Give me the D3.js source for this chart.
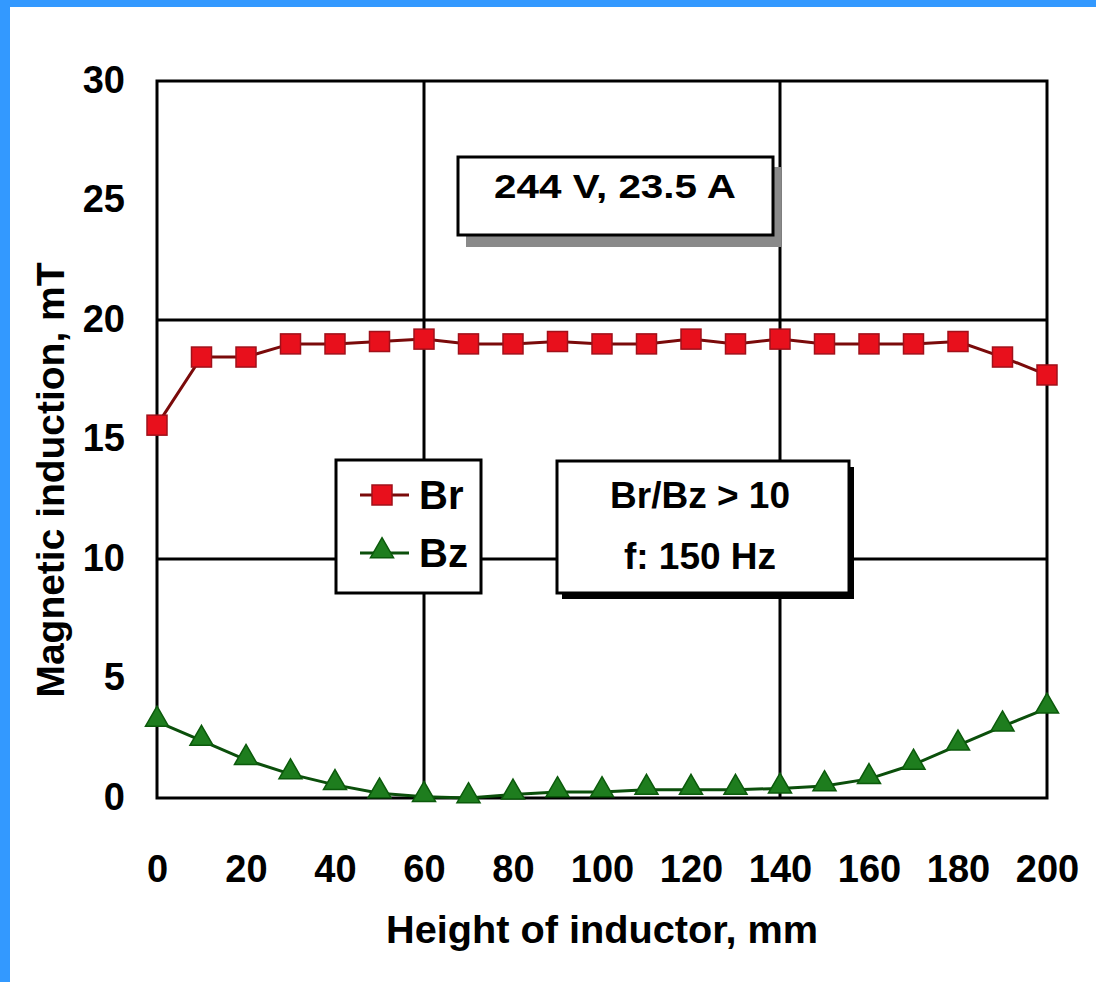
<!DOCTYPE html>
<html>
<head>
<meta charset="utf-8">
<script src="https://cdn.jsdelivr.net/npm/d3@7"></script>
<style>
  body { margin: 0; background: #fff; }
  svg text { font-family: "Liberation Sans", Arial, sans-serif; font-weight: bold; fill: #000; }
</style>
</head>
<body>
<svg id="chart" width="1096" height="982"></svg>
<script>
// data
var heights = [0, 10, 20, 30, 40, 50, 60, 70, 80, 90, 100, 110, 120, 130, 140, 150, 160, 170, 180, 190, 200];
var brValues = [15.6, 18.45, 18.45, 19.0, 19.0, 19.1, 19.2, 19.0, 19.0, 19.1, 19.0, 19.0, 19.2, 19.0, 19.2, 19.0, 19.0, 19.0, 19.1, 18.45, 17.7];
var bzValues = [3.2, 2.4, 1.6, 1.0, 0.55, 0.2, 0.05, 0.0, 0.15, 0.25, 0.25, 0.35, 0.35, 0.35, 0.4, 0.5, 0.8, 1.4, 2.2, 3.0, 3.75];
var xTicks = [0, 20, 40, 60, 80, 100, 120, 140, 160, 180, 200];
var yTicks = [0, 5, 10, 15, 20, 25, 30];
var xGrid = [60, 140];
var yGrid = [10, 20];

var svg = d3.select('#chart');

// blue frame on top and left
svg.append('rect').attr('x', 0).attr('y', 0).attr('width', 1096).attr('height', 982).style('fill', '#3399ff');
svg.append('rect').attr('x', 10).attr('y', 7).attr('width', 1086).attr('height', 975).style('fill', '#fff');

var plotLeft = 157, plotRight = 1047, plotTop = 81, plotBottom = 798;

var x = d3.scaleLinear().domain([0, 200]).range([plotLeft, plotRight]);
var y = d3.scaleLinear().domain([0, 30]).range([plotBottom, plotTop]);

var plot = svg.append('g');

// grid
plot.selectAll('.vgrid').data(xGrid).enter().append('line')
  .attr('x1', d => x(d)).attr('x2', d => x(d))
  .attr('y1', plotTop).attr('y2', plotBottom)
  .style('stroke', '#000').style('stroke-width', 3);

plot.selectAll('.hgrid').data(yGrid).enter().append('line')
  .attr('x1', plotLeft).attr('x2', plotRight)
  .attr('y1', d => y(d)).attr('y2', d => y(d))
  .style('stroke', '#000').style('stroke-width', 3);

// frame
plot.append('rect')
  .attr('x', plotLeft).attr('y', plotTop)
  .attr('width', plotRight - plotLeft).attr('height', plotBottom - plotTop)
  .style('fill', 'none').style('stroke', '#000').style('stroke-width', 3);

// axes (labels only, the frame draws the lines)
var xAxis = svg.append('g').attr('transform', 'translate(0,' + plotBottom + ')')
  .call(d3.axisBottom(x).tickValues(xTicks).tickSize(0).tickPadding(0));
xAxis.select('.domain').remove();
xAxis.selectAll('text')
  .attr('y', 84).attr('dy', 0)
  .style('font-size', '38px');

var yAxis = svg.append('g').attr('transform', 'translate(' + plotLeft + ',0)')
  .call(d3.axisLeft(y).tickValues(yTicks).tickSize(0).tickPadding(0));
yAxis.select('.domain').remove();
yAxis.selectAll('text')
  .attr('x', -32).attr('dy', 11)
  .style('font-size', '38px');

// axis titles
svg.append('text')
  .attr('x', (plotLeft + plotRight) / 2).attr('y', 943)
  .attr('text-anchor', 'middle')
  .attr('textLength', 432).attr('lengthAdjust', 'spacingAndGlyphs')
  .style('font-size', '39px')
  .text('Height of inductor, mm');

svg.append('text')
  .attr('transform', 'translate(64,480) rotate(-90)')
  .attr('text-anchor', 'middle')
  .attr('textLength', 435).attr('lengthAdjust', 'spacingAndGlyphs')
  .style('font-size', '39px')
  .text('Magnetic induction, mT');

// box 244 V, 23.5 A
svg.append('rect').attr('x', 466).attr('y', 167).attr('width', 315).attr('height', 80).style('fill', '#8a8a8a');
svg.append('rect').attr('x', 458).attr('y', 157).attr('width', 315).attr('height', 78)
  .style('fill', '#fff').style('stroke', '#000').style('stroke-width', 3);
svg.append('text')
  .attr('x', 615).attr('y', 198).attr('text-anchor', 'middle')
  .attr('textLength', 242).attr('lengthAdjust', 'spacingAndGlyphs')
  .style('font-size', '33px')
  .text('244 V, 23.5 A');

// box Br/Bz > 10
svg.append('rect').attr('x', 562).attr('y', 467).attr('width', 292).attr('height', 132).style('fill', '#000');
svg.append('rect').attr('x', 557).attr('y', 461).attr('width', 292).attr('height', 132)
  .style('fill', '#fff').style('stroke', '#000').style('stroke-width', 3);
svg.append('text')
  .attr('x', 700).attr('y', 508).attr('text-anchor', 'middle')
  .style('font-size', '37px')
  .text('Br/Bz > 10');
svg.append('text')
  .attr('x', 700).attr('y', 569).attr('text-anchor', 'middle')
  .style('font-size', '37px')
  .text('f: 150 Hz');

// series
var seriesLine = d3.line().x((d, i) => x(heights[i])).y(d => y(d));

plot.append('path').datum(brValues)
  .attr('d', seriesLine)
  .style('fill', 'none').style('stroke', '#7a0a0a').style('stroke-width', 3);

plot.append('path').datum(bzValues)
  .attr('d', seriesLine)
  .style('fill', 'none').style('stroke', '#0b4f0b').style('stroke-width', 3);

plot.selectAll('.br').data(brValues).enter().append('rect')
  .attr('x', (d, i) => x(heights[i]) - 10)
  .attr('y', d => y(d) - 10)
  .attr('width', 20).attr('height', 20)
  .style('fill', '#e8101c').style('stroke', '#a0101a').style('stroke-width', 1.5);

var tri = d3.symbol().type(d3.symbolTriangle).size(230);
plot.selectAll('.bz').data(bzValues).enter().append('path')
  .attr('d', tri)
  .attr('transform', (d, i) => 'translate(' + x(heights[i]) + ',' + (y(d) - 2) + ')')
  .style('fill', '#1e7d1e').style('stroke', '#0b5a0b').style('stroke-width', 1.5);

// legend
var legend = svg.append('g');
legend.append('rect').attr('x', 336).attr('y', 460).attr('width', 145).attr('height', 133)
  .style('fill', '#fff').style('stroke', '#000').style('stroke-width', 3);

legend.append('line').attr('x1', 360).attr('x2', 409).attr('y1', 495).attr('y2', 495)
  .style('stroke', '#7a0a0a').style('stroke-width', 3);
legend.append('rect').attr('x', 372).attr('y', 485).attr('width', 20).attr('height', 20)
  .style('fill', '#e8101c').style('stroke', '#a0101a').style('stroke-width', 1.5);
legend.append('text').attr('x', 419).attr('y', 509).style('font-size', '40px').text('Br');

legend.append('line').attr('x1', 360).attr('x2', 409).attr('y1', 553).attr('y2', 553)
  .style('stroke', '#0b4f0b').style('stroke-width', 3);
legend.append('path').attr('d', tri).attr('transform', 'translate(382,551)')
  .style('fill', '#1e7d1e').style('stroke', '#0b5a0b').style('stroke-width', 1.5);
legend.append('text').attr('x', 419).attr('y', 567).style('font-size', '40px').text('Bz');
</script>
</body>
</html>
